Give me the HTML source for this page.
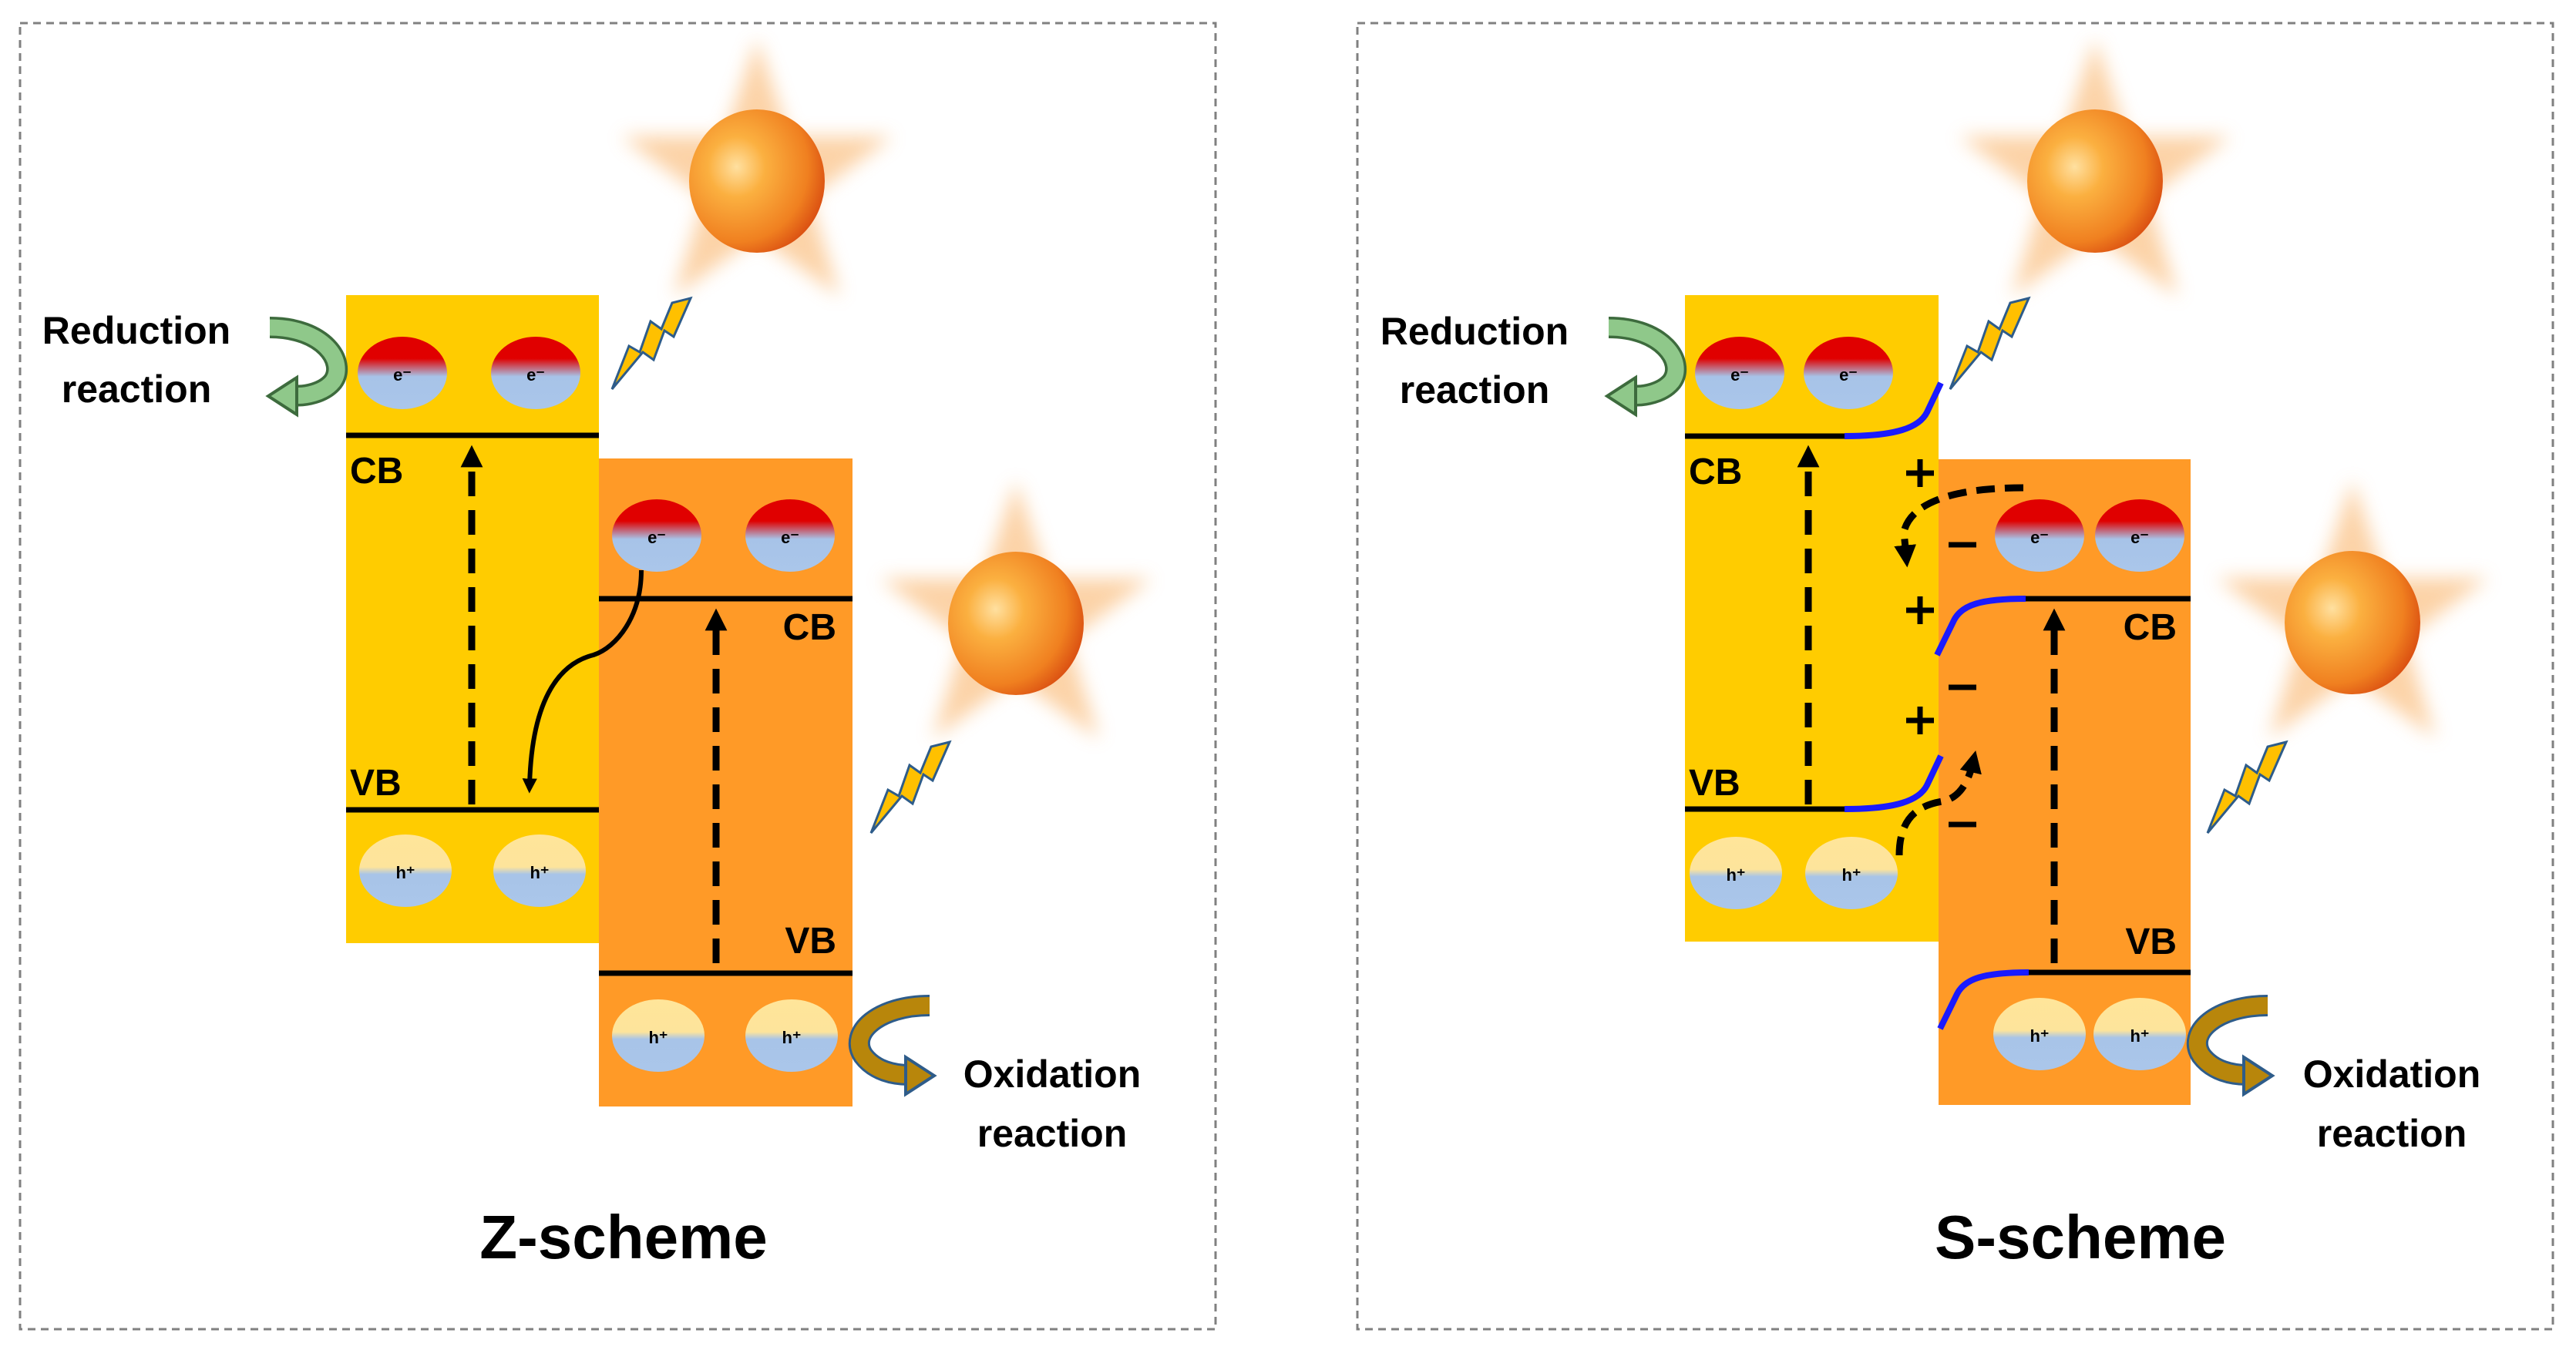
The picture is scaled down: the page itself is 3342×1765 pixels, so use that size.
<!DOCTYPE html>
<html><head><meta charset="utf-8"><style>html,body{margin:0;padding:0;background:#fff}svg{display:block}</style></head>
<body>
<svg width="3342" height="1765" viewBox="0 0 3342 1765" xmlns="http://www.w3.org/2000/svg" font-family="Liberation Sans, sans-serif" font-weight="bold">
<defs>
<linearGradient id="ge" x1="0" y1="0" x2="0" y2="1"><stop offset="0.1" stop-color="#e00000"/><stop offset="0.3" stop-color="#e00000"/><stop offset="0.55" stop-color="#a7c3e8"/><stop offset="1" stop-color="#aac6ea"/></linearGradient>
<linearGradient id="gh" x1="0" y1="0" x2="0" y2="1"><stop offset="0" stop-color="#ffe59a"/><stop offset="0.45" stop-color="#fde49b"/><stop offset="0.55" stop-color="#a8c4e8"/><stop offset="1" stop-color="#aac6ea"/></linearGradient>
<radialGradient id="gs" cx="0.35" cy="0.4" r="0.7"><stop offset="0" stop-color="#ffe0a0"/><stop offset="0.3" stop-color="#fbb040"/><stop offset="0.75" stop-color="#f08020"/><stop offset="1" stop-color="#d84a10"/></radialGradient>
<filter id="blur" x="-30%" y="-30%" width="160%" height="160%"><feGaussianBlur stdDeviation="12"/></filter>
<g id="sun">
<polygon points="0,-185 42,-58 176,-58 68,22 108,150 0,72 -108,150 -68,22 -176,-58 -42,-58" fill="#fbc48a" opacity="0.75" filter="url(#blur)"/>
<ellipse cx="0" cy="0" rx="88" ry="93" fill="url(#gs)"/>
</g>
<g id="bolt">
<polygon points="102,0 80,50 68,42 54,80 40,70 0,118 22,62 36,70 50,30 64,40 78,6" fill="#ffc000" stroke="#2e5c8a" stroke-width="3" stroke-linejoin="miter"/>
</g>
<ellipse id="e" cx="0" cy="0" rx="58" ry="47" fill="url(#ge)"/>
<ellipse id="h" cx="0" cy="0" rx="60" ry="47" fill="url(#gh)"/>
<marker id="ah" viewBox="0 0 10 10" refX="5" refY="5" markerWidth="3.2" markerHeight="3.2" orient="auto"><path d="M0,0 L10,5 L0,10 z" fill="#000"/></marker>
</defs>

<rect x="26" y="30" width="1551" height="1695" fill="none" stroke="#808080" stroke-width="3" stroke-dasharray="10,7"/>
<rect x="1761" y="30" width="1551" height="1695" fill="none" stroke="#808080" stroke-width="3" stroke-dasharray="10,7"/>

<!-- ===== Z-scheme ===== -->
<use href="#sun" x="982" y="235"/>
<use href="#sun" x="1318" y="809"/>
<use href="#bolt" x="794" y="387"/>
<use href="#bolt" x="1130" y="963"/>

<rect x="449" y="383" width="328" height="841" fill="#ffcc00"/>
<rect x="777" y="595" width="329" height="841" fill="#ff9a27"/>
<line x1="449" y1="565" x2="777" y2="565" stroke="#000" stroke-width="7"/>
<line x1="449" y1="1051" x2="777" y2="1051" stroke="#000" stroke-width="7"/>
<line x1="777" y1="777" x2="1106" y2="777" stroke="#000" stroke-width="7"/>
<line x1="777" y1="1263" x2="1106" y2="1263" stroke="#000" stroke-width="7"/>

<g font-size="22" fill="#000" text-anchor="middle">
<use href="#e" x="522" y="484"/><use href="#e" x="695" y="484"/>
<use href="#h" x="526" y="1130"/><use href="#h" x="700" y="1130"/>
<use href="#e" x="852" y="695"/><use href="#e" x="1025" y="695"/>
<use href="#h" x="854" y="1344"/><use href="#h" x="1027" y="1344"/>
<text x="522" y="494">e⁻</text><text x="695" y="494">e⁻</text>
<text x="526" y="1140">h⁺</text><text x="700" y="1140">h⁺</text>
<text x="852" y="705">e⁻</text><text x="1025" y="705">e⁻</text>
<text x="854" y="1354">h⁺</text><text x="1027" y="1354">h⁺</text>
</g>

<g font-size="48" fill="#000">
<text x="454" y="627">CB</text><text x="454" y="1032">VB</text>
<text x="1085" y="830" text-anchor="end">CB</text><text x="1085" y="1237" text-anchor="end">VB</text>
</g>

<line x1="612" y1="1044" x2="612" y2="592" stroke="#000" stroke-width="9" stroke-dasharray="32,18" marker-end="url(#ah)"/>
<line x1="929" y1="1250" x2="929" y2="804" stroke="#000" stroke-width="9" stroke-dasharray="32,18" marker-end="url(#ah)"/>
<path d="M832,740 C832,800 800,840 770,850 C730,860 690,900 687,1020" fill="none" stroke="#000" stroke-width="6" marker-end="url(#ah)"/>

<path d="M350,425 C420,425 450,470 432,495 C420,510 395,515 380,513" fill="none" stroke="#3d6b3d" stroke-width="28"/>
<path d="M350,425 C420,425 450,470 432,495 C420,510 395,515 380,513" fill="none" stroke="#8fc88a" stroke-width="21"/>
<polygon points="348,514 385,490 385,538" fill="#8fc88a" stroke="#3d6b3d" stroke-width="4"/>
<path d="M1206,1305 C1140,1305 1100,1340 1120,1370 C1135,1390 1160,1395 1180,1395" fill="none" stroke="#2e5c8a" stroke-width="28"/>
<path d="M1206,1305 C1140,1305 1100,1340 1120,1370 C1135,1390 1160,1395 1180,1395" fill="none" stroke="#b8860b" stroke-width="22"/>
<polygon points="1212,1396 1175,1372 1175,1420" fill="#b8860b" stroke="#2e5c8a" stroke-width="4"/>

<g font-size="50" fill="#000" text-anchor="middle">
<text x="177" y="446">Reduction</text><text x="177" y="522">reaction</text>
<text x="1365" y="1411">Oxidation</text><text x="1365" y="1488">reaction</text>
</g>
<text x="809" y="1633" font-size="80" text-anchor="middle" fill="#000">Z-scheme</text>

<!-- ===== S-scheme ===== -->
<use href="#sun" x="2718" y="235"/>
<use href="#sun" x="3052" y="808"/>
<use href="#bolt" x="2530" y="387"/>
<use href="#bolt" x="2864" y="963"/>

<rect x="2186" y="383" width="329" height="839" fill="#ffcc00"/>
<rect x="2515" y="596" width="327" height="838" fill="#ff9a27"/>
<line x1="2186" y1="566" x2="2395" y2="566" stroke="#000" stroke-width="7"/>
<line x1="2186" y1="1050" x2="2395" y2="1050" stroke="#000" stroke-width="7"/>
<line x1="2628" y1="777" x2="2842" y2="777" stroke="#000" stroke-width="7"/>
<line x1="2628" y1="1262" x2="2842" y2="1262" stroke="#000" stroke-width="7"/>
<g fill="none" stroke="#1a1aff" stroke-width="8">
<path d="M2393,566 C2460,566 2490,555 2500,535 L2518,497"/>
<path d="M2393,1050 C2460,1050 2490,1039 2500,1019 L2518,981"/>
<path d="M2628,777 C2570,777 2545,785 2535,805 L2513,850"/>
<path d="M2632,1262 C2574,1262 2549,1270 2539,1290 L2517,1335"/>
</g>

<g font-size="22" fill="#000" text-anchor="middle">
<use href="#e" x="2257" y="484"/><use href="#e" x="2398" y="484"/>
<use href="#h" x="2252" y="1133"/><use href="#h" x="2402" y="1133"/>
<use href="#e" x="2646" y="695"/><use href="#e" x="2776" y="695"/>
<use href="#h" x="2646" y="1342"/><use href="#h" x="2776" y="1342"/>
<text x="2257" y="494">e⁻</text><text x="2398" y="494">e⁻</text>
<text x="2252" y="1143">h⁺</text><text x="2402" y="1143">h⁺</text>
<text x="2646" y="705">e⁻</text><text x="2776" y="705">e⁻</text>
<text x="2646" y="1352">h⁺</text><text x="2776" y="1352">h⁺</text>
</g>

<g font-size="48" fill="#000">
<text x="2191" y="628">CB</text><text x="2191" y="1032">VB</text>
<text x="2824" y="830" text-anchor="end">CB</text><text x="2824" y="1238" text-anchor="end">VB</text>
</g>
<g stroke="#000" stroke-width="7">
<path d="M2473,614 h36 M2491,596 v36"/>
<path d="M2473,792 h36 M2491,774 v36"/>
<path d="M2473,935 h36 M2491,917 v36"/>
<path d="M2528,707 h36 M2528,892 h36 M2528,1070 h36"/>
</g>

<line x1="2346" y1="1044" x2="2346" y2="592" stroke="#000" stroke-width="9" stroke-dasharray="32,18" marker-end="url(#ah)"/>
<line x1="2665" y1="1250" x2="2665" y2="804" stroke="#000" stroke-width="9" stroke-dasharray="32,18" marker-end="url(#ah)"/>
<path d="M2625,633 C2540,633 2480,650 2470,690 L2473,722" fill="none" stroke="#000" stroke-width="9" stroke-dasharray="24,13" marker-end="url(#ah)"/>
<path d="M2464,1110 C2464,1060 2490,1045 2520,1040 C2545,1035 2555,1010 2560,988" fill="none" stroke="#000" stroke-width="9" stroke-dasharray="24,13" marker-end="url(#ah)"/>

<path d="M2087,425 C2157,425 2187,470 2169,495 C2157,510 2132,515 2117,513" fill="none" stroke="#3d6b3d" stroke-width="28"/>
<path d="M2087,425 C2157,425 2187,470 2169,495 C2157,510 2132,515 2117,513" fill="none" stroke="#8fc88a" stroke-width="21"/>
<polygon points="2085,514 2122,490 2122,538" fill="#8fc88a" stroke="#3d6b3d" stroke-width="4"/>
<path d="M2942,1305 C2876,1305 2836,1340 2856,1370 C2871,1390 2896,1395 2916,1395" fill="none" stroke="#2e5c8a" stroke-width="28"/>
<path d="M2942,1305 C2876,1305 2836,1340 2856,1370 C2871,1390 2896,1395 2916,1395" fill="none" stroke="#b8860b" stroke-width="22"/>
<polygon points="2948,1396 2911,1372 2911,1420" fill="#b8860b" stroke="#2e5c8a" stroke-width="4"/>

<g font-size="50" fill="#000" text-anchor="middle">
<text x="1913" y="447">Reduction</text><text x="1913" y="523">reaction</text>
<text x="3103" y="1411">Oxidation</text><text x="3103" y="1488">reaction</text>
</g>
<text x="2699" y="1633" font-size="80" text-anchor="middle" fill="#000">S-scheme</text>
</svg>
</body></html>
